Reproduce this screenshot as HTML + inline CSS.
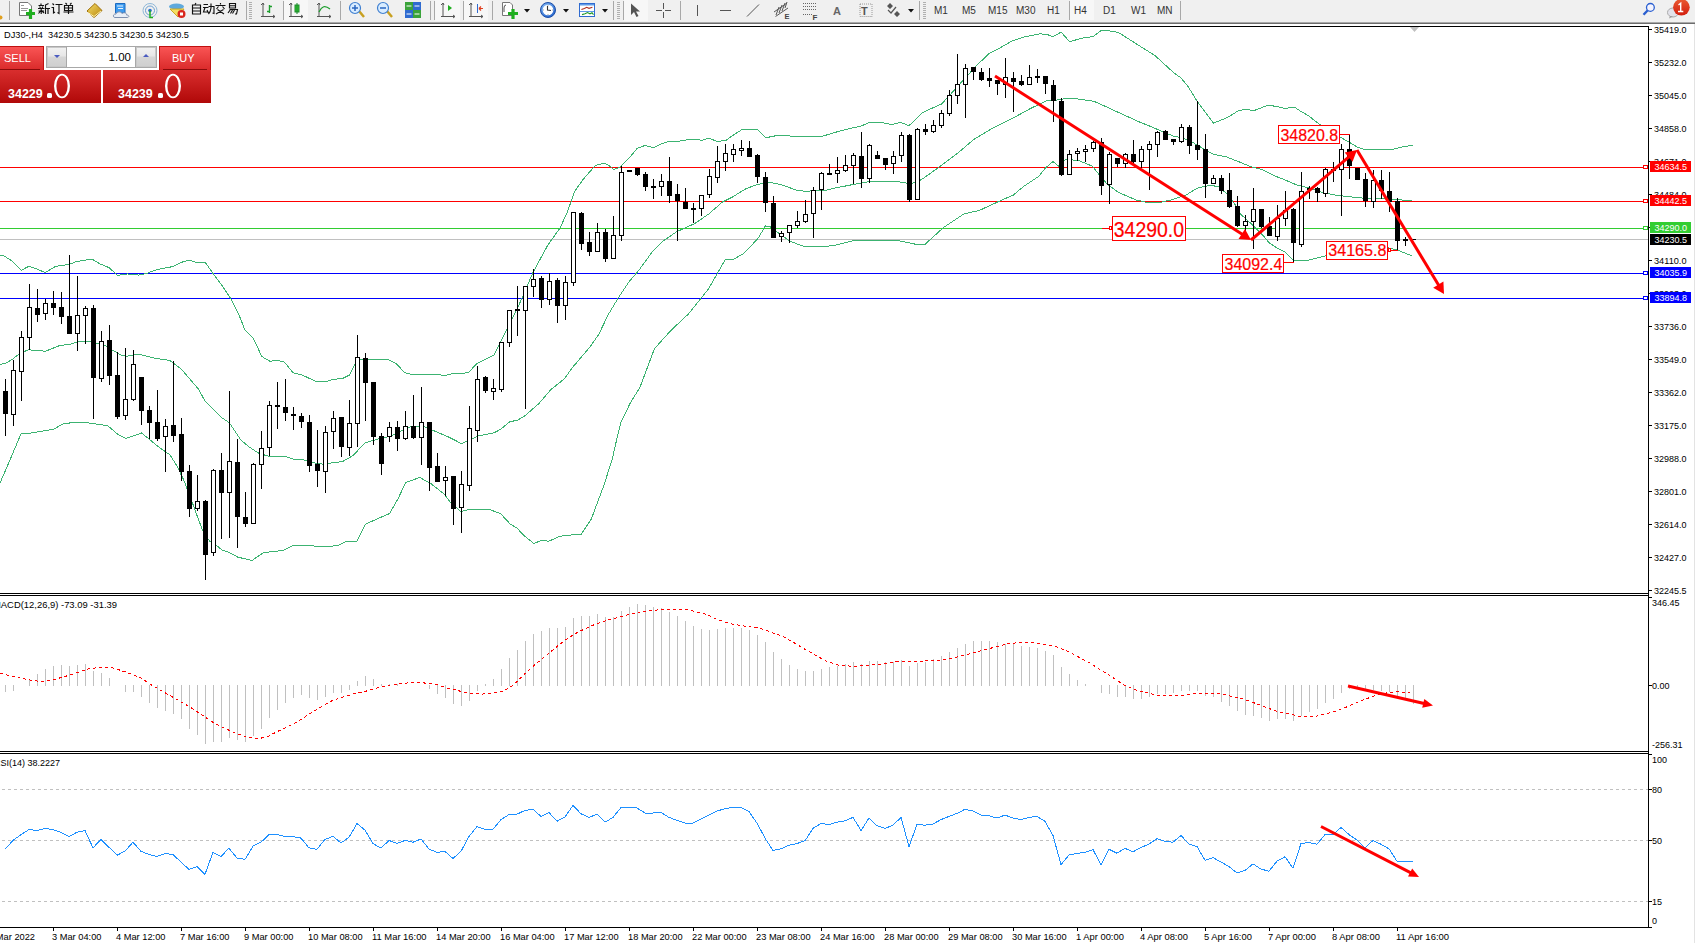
<!DOCTYPE html>
<html><head><meta charset="utf-8"><style>
html,body{margin:0;padding:0;background:#fff;}
body{width:1695px;height:943px;overflow:hidden;position:relative;font-family:"Liberation Sans",sans-serif;}
svg{position:absolute;left:0;top:0;}
svg text{font-family:"Liberation Sans",sans-serif;font-size:9px;}
.tb{position:absolute;font-size:10px;color:#222;top:4px;white-space:nowrap;}
</style></head><body>
<svg width="1695" height="943" viewBox="0 0 1695 943">
<rect x="0" y="0" width="1695" height="22" fill="#f0f0f0"/>
<rect x="0" y="22" width="1695" height="1" fill="#a9a9a9"/><rect x="0" y="23" width="1695" height="1" fill="#6c6c6c"/>
<g shape-rendering="crispEdges">
<rect x="0" y="26" width="1649" height="1" fill="#000"/>
<rect x="1648" y="26" width="1" height="902" fill="#000"/>
<rect x="0" y="593" width="1648" height="1" fill="#000"/>
<rect x="0" y="595" width="1648" height="1" fill="#000"/>
<rect x="0" y="751" width="1648" height="1" fill="#000"/>
<rect x="0" y="753" width="1648" height="1" fill="#000"/>
<rect x="0" y="927" width="1649" height="1" fill="#000"/>
<rect x="1694" y="24" width="1" height="919" fill="#e3e3e3"/>
</g>
<g shape-rendering="crispEdges" fill="#000">
<rect x="1649" y="29" width="3" height="1"/>
<rect x="1649" y="62" width="3" height="1"/>
<rect x="1649" y="95" width="3" height="1"/>
<rect x="1649" y="128" width="3" height="1"/>
<rect x="1649" y="161" width="3" height="1"/>
<rect x="1649" y="194" width="3" height="1"/>
<rect x="1649" y="227" width="3" height="1"/>
<rect x="1649" y="260" width="3" height="1"/>
<rect x="1649" y="293" width="3" height="1"/>
<rect x="1649" y="326" width="3" height="1"/>
<rect x="1649" y="359" width="3" height="1"/>
<rect x="1649" y="392" width="3" height="1"/>
<rect x="1649" y="425" width="3" height="1"/>
<rect x="1649" y="458" width="3" height="1"/>
<rect x="1649" y="491" width="3" height="1"/>
<rect x="1649" y="524" width="3" height="1"/>
<rect x="1649" y="557" width="3" height="1"/>
<rect x="1649" y="590" width="3" height="1"/>
</g>
<rect x="1649" y="597" width="3" height="1" fill="#000" shape-rendering="crispEdges"/>
<rect x="1649" y="685" width="3" height="1" fill="#000" shape-rendering="crispEdges"/>
<rect x="1649" y="754" width="3" height="1" fill="#000" shape-rendering="crispEdges"/>
<rect x="1649" y="789" width="3" height="1" fill="#000" shape-rendering="crispEdges"/>
<rect x="1649" y="840" width="3" height="1" fill="#000" shape-rendering="crispEdges"/>
<rect x="1649" y="901" width="3" height="1" fill="#000" shape-rendering="crispEdges"/>
<rect x="1649" y="927" width="3" height="1" fill="#000" shape-rendering="crispEdges"/>
<g shape-rendering="crispEdges" fill="#000">
<rect x="53" y="928" width="1" height="3"/>
<rect x="117" y="928" width="1" height="3"/>
<rect x="181" y="928" width="1" height="3"/>
<rect x="245" y="928" width="1" height="3"/>
<rect x="309" y="928" width="1" height="3"/>
<rect x="373" y="928" width="1" height="3"/>
<rect x="437" y="928" width="1" height="3"/>
<rect x="501" y="928" width="1" height="3"/>
<rect x="565" y="928" width="1" height="3"/>
<rect x="629" y="928" width="1" height="3"/>
<rect x="693" y="928" width="1" height="3"/>
<rect x="757" y="928" width="1" height="3"/>
<rect x="821" y="928" width="1" height="3"/>
<rect x="885" y="928" width="1" height="3"/>
<rect x="949" y="928" width="1" height="3"/>
<rect x="1013" y="928" width="1" height="3"/>
<rect x="1077" y="928" width="1" height="3"/>
<rect x="1141" y="928" width="1" height="3"/>
<rect x="1205" y="928" width="1" height="3"/>
<rect x="1269" y="928" width="1" height="3"/>
<rect x="1333" y="928" width="1" height="3"/>
<rect x="1397" y="928" width="1" height="3"/>
</g>
<g shape-rendering="crispEdges">
<rect x="0" y="167" width="1648" height="1" fill="#ff0000"/>
<rect x="0" y="201" width="1648" height="1" fill="#ff0000"/>
<rect x="0" y="228" width="1648" height="1" fill="#32cd32"/>
<rect x="0" y="239" width="1648" height="1" fill="#c0c0c0"/>
<rect x="0" y="273" width="1648" height="1" fill="#0000ff"/>
<rect x="0" y="298" width="1648" height="1" fill="#0000ff"/>
<rect x="1643.5" y="165.5" width="4" height="3" fill="#fff" stroke="#ff0000" stroke-width="1"/>
<rect x="1643.5" y="199.5" width="4" height="3" fill="#fff" stroke="#ff0000" stroke-width="1"/>
<rect x="1643.5" y="226.5" width="4" height="3" fill="#fff" stroke="#32cd32" stroke-width="1"/>
<rect x="1643.5" y="271.5" width="4" height="3" fill="#fff" stroke="#0000ff" stroke-width="1"/>
<rect x="1643.5" y="296.5" width="4" height="3" fill="#fff" stroke="#0000ff" stroke-width="1"/>
</g>
<g fill="none" stroke="#3cb371" stroke-width="1" shape-rendering="crispEdges">
<polyline points="0,255.3 3.5,255.6 11.3,260.5 21.2,270.4 29,266.2 36.8,269 45.3,272.6 55.2,266.6 60.9,265.5 69.4,264.4 76.5,261.5 83.5,260.5 92,259.1 100.5,264.1 109,267.6 117.5,275.4 127.4,274 138.8,275.1 145.8,273.7 157.2,269.5 172.7,266.6 182.7,261.9 189,260.2 196.8,262.4 205.3,262.4 212.4,272.6 220.9,283.9 230.7,298.5 239.2,315.5 244.8,329.6 253.3,338.1 261.8,356.5 270.3,361.5 276,360.1 284.5,362.2 293,372.8 301.5,374.7 315.6,381.3 327,381.3 332.6,379.5 342.5,378.5 349.6,375 355.3,363.6 359.5,359.4 377.9,359.7 387.8,359.4 396.3,363.6 404.8,372.8 410.5,374.2 433.1,374.7 445.9,375.2 453,373.5 460,373.9 468.5,372.4 477.1,363.4 494.1,354.9 506.3,330.5 518.5,306.1 533.2,272 547.8,245.1 560,228 567.3,212.2 574.6,191.5 582.7,180 595.4,165.3 603.9,163.2 608.8,165.3 613.8,169.6 619.5,167.4 630.8,156.1 637.2,148.3 645,145.5 653.5,147.6 659.1,144.8 669,141.2 680.4,141 687.4,139.8 697.3,139.1 701.6,140.5 708.7,138.1 717.2,141.5 725.7,140.5 735.6,133.5 742,129.6 757.5,129.6 766,137.7 778,135.3 800,136.6 821.2,136.6 835.4,132.3 849.6,128.5 860.9,126.2 869.4,122.4 880.7,122.4 892,124.5 900.5,122.4 909,125.7 921.8,113.2 928.8,109.7 941.6,104 950.1,94.8 962.8,80.6 977,65.1 989.7,53 999.6,48.1 1012.4,40.7 1025.1,36.7 1040,33.9 1046.3,34.2 1052.7,36.5 1061.2,32.2 1069.7,41.7 1081.7,38.2 1093.1,36.5 1101.5,30.4 1111.5,31.1 1118.5,32.5 1134.1,42.4 1155.4,55.9 1173.8,72.8 1180.8,77.8 1187.9,86.3 1197.1,101.2 1213.4,123.1 1227.6,117.5 1238.9,110.4 1247.4,109.4 1253.8,110.7 1267.2,105.4 1274.4,106.1 1280.6,107.4 1285,108.7 1290.4,107.4 1294.8,107.4 1300.1,110.9 1308,115.4 1314.2,120.2 1319.6,124.2 1339.9,137 1347.9,141.5 1357.6,147.2 1364.7,149.4 1392.1,149.4 1401,147.2 1412.9,145.3"/>
<polyline points="0,364.5 5.7,363.3 12.7,359.1 19.8,353.4 28.3,349.9 38.2,350.3 45.3,351.3 59.5,345.6 70.8,344.2 79.3,341.4 89.2,341.4 96.3,343.2 104.8,345.2 113.3,350.6 120.4,354.8 127.4,356.2 138.8,354.1 155.8,358.4 169.9,360.5 181.2,369 198.2,388.8 205.3,401.5 220.9,417.1 229.4,422.8 235,431.2 240.8,440 249.3,447.1 259.2,453.5 269.1,456.3 286.1,456.7 293.2,459.1 303.1,459.8 313,462.7 322.9,464.1 331.3,463 342.6,461.6 352.5,455.9 365.4,442.8 376.6,439.4 390.7,436.1 402.1,430.4 410.6,426.9 423.3,426.2 433.2,430.4 448.8,437.1 461.5,443.6 470,440 478,436 493.9,432.9 500.5,429.4 509.8,421.8 517.7,420.1 525.7,415.2 538.9,403.5 550.9,389.6 564.1,379 573.4,366.4 589.3,347.8 598.6,334.6 608.5,314.2 618.7,297.2 628.8,282 639,270.1 652.6,251.4 662.8,241.3 676.3,231.9 695,223.4 708.6,214.1 722.2,202.2 732.3,197.1 745.9,188.7 757.8,184.4 769.7,182.2 783.2,185.3 796.8,190.4 805.3,191.2 825.7,190.4 835,188.1 852,184.7 868.9,181.6 879.1,181.3 897.8,181.6 906.3,183 913,183 921.5,179.6 940.2,166.3 957.2,153.6 974.1,139.2 991.1,129 1013.1,118 1030.1,108.7 1047.1,100.5 1055.6,100.2 1069.1,98.1 1080.6,99.3 1093.9,101.3 1107.1,107.2 1123,114.5 1138.9,121.8 1152.2,127.1 1162.8,131.8 1173.4,136.1 1182.7,138 1193.3,142.8 1202.6,148.3 1213.2,154.3 1226.4,156.9 1240,162.2 1250.6,166.6 1261.2,169.2 1274.5,175.8 1286.4,180.5 1297,185.1 1310.3,188.4 1322.2,192.4 1335.4,195.1 1352.7,197.1 1365.9,198.4 1385.8,199 1412,200.6"/>
<polyline points="0,483 7.8,465 21.2,433.4 31.2,433 53.8,429.2 62.3,424.2 75,422.1 87.8,422.8 107.6,425.6 117.5,434.1 126,438.4 141.6,433 158.6,446.9 170,454.9 177.1,466.2 184.2,481.1 192.7,503.7 202.6,530.6 209.6,541.2 216.7,545.5 222.4,550.4 228.1,551.9 238,557.2 252.1,560.4 263.5,552.6 283.3,550.4 293.2,545.5 313,545.5 315.8,546.5 337.1,545.9 345.6,541.7 356.9,541.2 365.4,524.2 381,517.2 389.5,513.6 398,498.8 405.7,482.5 419.8,477.5 431.2,483.9 443.9,493.8 451,503 460.9,511.5 469.4,509.4 489.2,509.4 500.5,513.6 510.4,524.2 517.5,528.5 523.2,534.9 533.8,543.4 541.6,540.5 548.7,541.2 560,536.3 569.9,535.1 581.2,534.2 591.2,519.3 603.9,485.3 612.4,458.4 616.6,440 621.1,422 630,403.5 640.2,386.8 654.5,348.6 671.3,330 688.2,314.2 708.6,288.8 725.5,259.1 734,259.1 744.2,253.1 757.8,238.7 765.4,226 769.7,226.3 778.1,232.8 790,241.3 803.6,246.3 827.3,246.3 835,245.2 855.4,240.2 896.1,240.2 916.4,244.4 924.9,244.4 943.6,227.4 964,213.9 979.2,210.5 1001.3,200.3 1013.1,195.2 1023.3,186.7 1038.6,176.5 1045.4,168 1053,161.6 1059,166.3 1065.7,159.6 1078,160.3 1092.5,166.2 1099.2,174.8 1107.1,184.1 1119,192.7 1136.3,200 1146.9,202.4 1160.1,202.4 1170.7,200 1186.6,194.7 1197.3,188.1 1210.5,185.2 1218.5,186.8 1226.4,193.4 1235.7,205.3 1240,213.6 1253.3,225.6 1262.5,234.8 1269.2,242.8 1277.1,248.1 1285.1,252.1 1293,260 1308.9,260 1324.8,256 1360,249 1388.5,247.8 1399.1,250.7 1412.3,256"/>
</g>
<g shape-rendering="crispEdges">
<rect x="5" y="379" width="1" height="57" fill="#000"/>
<rect x="3" y="391" width="5" height="23" fill="#000"/>
<rect x="13" y="360" width="1" height="66" fill="#000"/>
<rect x="11" y="370" width="5" height="45" fill="#000"/>
<rect x="12" y="371" width="3" height="43" fill="#fff"/>
<rect x="21" y="331" width="1" height="70" fill="#000"/>
<rect x="19" y="337" width="5" height="35" fill="#000"/>
<rect x="20" y="338" width="3" height="33" fill="#fff"/>
<rect x="29" y="284" width="1" height="66" fill="#000"/>
<rect x="27" y="307" width="5" height="31" fill="#000"/>
<rect x="28" y="308" width="3" height="29" fill="#fff"/>
<rect x="37" y="289" width="1" height="33" fill="#000"/>
<rect x="35" y="308" width="5" height="7" fill="#000"/>
<rect x="45" y="299" width="1" height="21" fill="#000"/>
<rect x="43" y="303" width="5" height="11" fill="#000"/>
<rect x="44" y="304" width="3" height="9" fill="#fff"/>
<rect x="53" y="291" width="1" height="24" fill="#000"/>
<rect x="51" y="303" width="5" height="5" fill="#000"/>
<rect x="61" y="292" width="1" height="32" fill="#000"/>
<rect x="59" y="307" width="5" height="10" fill="#000"/>
<rect x="69" y="255" width="1" height="79" fill="#000"/>
<rect x="67" y="316" width="5" height="18" fill="#000"/>
<rect x="77" y="276" width="1" height="75" fill="#000"/>
<rect x="75" y="315" width="5" height="19" fill="#000"/>
<rect x="76" y="316" width="3" height="17" fill="#fff"/>
<rect x="85" y="306" width="1" height="38" fill="#000"/>
<rect x="83" y="308" width="5" height="8" fill="#000"/>
<rect x="84" y="309" width="3" height="6" fill="#fff"/>
<rect x="93" y="305" width="1" height="114" fill="#000"/>
<rect x="91" y="308" width="5" height="70" fill="#000"/>
<rect x="101" y="331" width="1" height="51" fill="#000"/>
<rect x="99" y="341" width="5" height="38" fill="#000"/>
<rect x="100" y="342" width="3" height="36" fill="#fff"/>
<rect x="109" y="325" width="1" height="60" fill="#000"/>
<rect x="107" y="340" width="5" height="36" fill="#000"/>
<rect x="117" y="352" width="1" height="67" fill="#000"/>
<rect x="115" y="375" width="5" height="42" fill="#000"/>
<rect x="125" y="348" width="1" height="72" fill="#000"/>
<rect x="123" y="399" width="5" height="17" fill="#000"/>
<rect x="124" y="400" width="3" height="15" fill="#fff"/>
<rect x="133" y="350" width="1" height="51" fill="#000"/>
<rect x="131" y="364" width="5" height="36" fill="#000"/>
<rect x="132" y="365" width="3" height="34" fill="#fff"/>
<rect x="141" y="377" width="1" height="48" fill="#000"/>
<rect x="139" y="377" width="5" height="34" fill="#000"/>
<rect x="149" y="406" width="1" height="33" fill="#000"/>
<rect x="147" y="410" width="5" height="13" fill="#000"/>
<rect x="157" y="390" width="1" height="51" fill="#000"/>
<rect x="155" y="422" width="5" height="17" fill="#000"/>
<rect x="165" y="419" width="1" height="53" fill="#000"/>
<rect x="163" y="426" width="5" height="11" fill="#000"/>
<rect x="164" y="427" width="3" height="9" fill="#fff"/>
<rect x="173" y="361" width="1" height="81" fill="#000"/>
<rect x="171" y="425" width="5" height="11" fill="#000"/>
<rect x="181" y="418" width="1" height="63" fill="#000"/>
<rect x="179" y="434" width="5" height="38" fill="#000"/>
<rect x="189" y="465" width="1" height="52" fill="#000"/>
<rect x="187" y="471" width="5" height="38" fill="#000"/>
<rect x="197" y="475" width="1" height="36" fill="#000"/>
<rect x="195" y="501" width="5" height="8" fill="#000"/>
<rect x="196" y="502" width="3" height="6" fill="#fff"/>
<rect x="205" y="500" width="1" height="80" fill="#000"/>
<rect x="203" y="501" width="5" height="54" fill="#000"/>
<rect x="213" y="469" width="1" height="87" fill="#000"/>
<rect x="211" y="470" width="5" height="83" fill="#000"/>
<rect x="212" y="471" width="3" height="81" fill="#fff"/>
<rect x="221" y="453" width="1" height="86" fill="#000"/>
<rect x="219" y="470" width="5" height="23" fill="#000"/>
<rect x="229" y="391" width="1" height="147" fill="#000"/>
<rect x="227" y="461" width="5" height="32" fill="#000"/>
<rect x="228" y="462" width="3" height="30" fill="#fff"/>
<rect x="237" y="439" width="1" height="109" fill="#000"/>
<rect x="235" y="462" width="5" height="55" fill="#000"/>
<rect x="245" y="492" width="1" height="35" fill="#000"/>
<rect x="243" y="517" width="5" height="7" fill="#000"/>
<rect x="253" y="463" width="1" height="61" fill="#000"/>
<rect x="251" y="464" width="5" height="60" fill="#000"/>
<rect x="252" y="465" width="3" height="58" fill="#fff"/>
<rect x="261" y="431" width="1" height="58" fill="#000"/>
<rect x="259" y="448" width="5" height="17" fill="#000"/>
<rect x="260" y="449" width="3" height="15" fill="#fff"/>
<rect x="269" y="401" width="1" height="55" fill="#000"/>
<rect x="267" y="405" width="5" height="43" fill="#000"/>
<rect x="268" y="406" width="3" height="41" fill="#fff"/>
<rect x="277" y="382" width="1" height="47" fill="#000"/>
<rect x="275" y="405" width="5" height="2" fill="#000"/>
<rect x="285" y="379" width="1" height="42" fill="#000"/>
<rect x="283" y="407" width="5" height="6" fill="#000"/>
<rect x="293" y="407" width="1" height="23" fill="#000"/>
<rect x="291" y="414" width="5" height="2" fill="#000"/>
<rect x="301" y="413" width="1" height="15" fill="#000"/>
<rect x="299" y="416" width="5" height="6" fill="#000"/>
<rect x="309" y="415" width="1" height="57" fill="#000"/>
<rect x="307" y="422" width="5" height="44" fill="#000"/>
<rect x="317" y="430" width="1" height="57" fill="#000"/>
<rect x="315" y="464" width="5" height="7" fill="#000"/>
<rect x="325" y="426" width="1" height="67" fill="#000"/>
<rect x="323" y="432" width="5" height="40" fill="#000"/>
<rect x="324" y="433" width="3" height="38" fill="#fff"/>
<rect x="333" y="411" width="1" height="38" fill="#000"/>
<rect x="331" y="418" width="5" height="14" fill="#000"/>
<rect x="332" y="419" width="3" height="12" fill="#fff"/>
<rect x="341" y="417" width="1" height="40" fill="#000"/>
<rect x="339" y="417" width="5" height="30" fill="#000"/>
<rect x="349" y="400" width="1" height="56" fill="#000"/>
<rect x="347" y="423" width="5" height="25" fill="#000"/>
<rect x="348" y="424" width="3" height="23" fill="#fff"/>
<rect x="357" y="335" width="1" height="112" fill="#000"/>
<rect x="355" y="357" width="5" height="67" fill="#000"/>
<rect x="356" y="358" width="3" height="65" fill="#fff"/>
<rect x="365" y="353" width="1" height="68" fill="#000"/>
<rect x="363" y="358" width="5" height="25" fill="#000"/>
<rect x="373" y="382" width="1" height="63" fill="#000"/>
<rect x="371" y="382" width="5" height="55" fill="#000"/>
<rect x="381" y="433" width="1" height="42" fill="#000"/>
<rect x="379" y="436" width="5" height="28" fill="#000"/>
<rect x="389" y="422" width="1" height="20" fill="#000"/>
<rect x="387" y="427" width="5" height="10" fill="#000"/>
<rect x="388" y="428" width="3" height="8" fill="#fff"/>
<rect x="397" y="421" width="1" height="30" fill="#000"/>
<rect x="395" y="427" width="5" height="12" fill="#000"/>
<rect x="405" y="411" width="1" height="29" fill="#000"/>
<rect x="403" y="426" width="5" height="13" fill="#000"/>
<rect x="404" y="427" width="3" height="11" fill="#fff"/>
<rect x="413" y="395" width="1" height="44" fill="#000"/>
<rect x="411" y="426" width="5" height="12" fill="#000"/>
<rect x="421" y="387" width="1" height="78" fill="#000"/>
<rect x="419" y="422" width="5" height="16" fill="#000"/>
<rect x="420" y="423" width="3" height="14" fill="#fff"/>
<rect x="429" y="422" width="1" height="69" fill="#000"/>
<rect x="427" y="422" width="5" height="46" fill="#000"/>
<rect x="437" y="453" width="1" height="29" fill="#000"/>
<rect x="435" y="466" width="5" height="16" fill="#000"/>
<rect x="445" y="466" width="1" height="30" fill="#000"/>
<rect x="443" y="477" width="5" height="4" fill="#000"/>
<rect x="444" y="478" width="3" height="2" fill="#fff"/>
<rect x="453" y="476" width="1" height="49" fill="#000"/>
<rect x="451" y="476" width="5" height="33" fill="#000"/>
<rect x="461" y="471" width="1" height="62" fill="#000"/>
<rect x="459" y="484" width="5" height="24" fill="#000"/>
<rect x="460" y="485" width="3" height="22" fill="#fff"/>
<rect x="469" y="406" width="1" height="85" fill="#000"/>
<rect x="467" y="428" width="5" height="58" fill="#000"/>
<rect x="468" y="429" width="3" height="56" fill="#fff"/>
<rect x="477" y="366" width="1" height="76" fill="#000"/>
<rect x="475" y="379" width="5" height="52" fill="#000"/>
<rect x="476" y="380" width="3" height="50" fill="#fff"/>
<rect x="485" y="376" width="1" height="17" fill="#000"/>
<rect x="483" y="377" width="5" height="14" fill="#000"/>
<rect x="493" y="379" width="1" height="21" fill="#000"/>
<rect x="491" y="388" width="5" height="4" fill="#000"/>
<rect x="492" y="389" width="3" height="2" fill="#fff"/>
<rect x="501" y="342" width="1" height="50" fill="#000"/>
<rect x="499" y="342" width="5" height="48" fill="#000"/>
<rect x="500" y="343" width="3" height="46" fill="#fff"/>
<rect x="509" y="310" width="1" height="37" fill="#000"/>
<rect x="507" y="310" width="5" height="33" fill="#000"/>
<rect x="508" y="311" width="3" height="31" fill="#fff"/>
<rect x="517" y="286" width="1" height="50" fill="#000"/>
<rect x="515" y="309" width="5" height="2" fill="#000"/>
<rect x="525" y="286" width="1" height="123" fill="#000"/>
<rect x="523" y="286" width="5" height="25" fill="#000"/>
<rect x="524" y="287" width="3" height="23" fill="#fff"/>
<rect x="533" y="269" width="1" height="28" fill="#000"/>
<rect x="531" y="279" width="5" height="8" fill="#000"/>
<rect x="532" y="280" width="3" height="6" fill="#fff"/>
<rect x="541" y="276" width="1" height="32" fill="#000"/>
<rect x="539" y="278" width="5" height="22" fill="#000"/>
<rect x="549" y="273" width="1" height="32" fill="#000"/>
<rect x="547" y="281" width="5" height="19" fill="#000"/>
<rect x="548" y="282" width="3" height="17" fill="#fff"/>
<rect x="557" y="278" width="1" height="45" fill="#000"/>
<rect x="555" y="280" width="5" height="26" fill="#000"/>
<rect x="565" y="276" width="1" height="44" fill="#000"/>
<rect x="563" y="282" width="5" height="24" fill="#000"/>
<rect x="564" y="283" width="3" height="22" fill="#fff"/>
<rect x="573" y="212" width="1" height="74" fill="#000"/>
<rect x="571" y="212" width="5" height="71" fill="#000"/>
<rect x="572" y="213" width="3" height="69" fill="#fff"/>
<rect x="581" y="212" width="1" height="38" fill="#000"/>
<rect x="579" y="213" width="5" height="31" fill="#000"/>
<rect x="589" y="232" width="1" height="24" fill="#000"/>
<rect x="587" y="242" width="5" height="10" fill="#000"/>
<rect x="597" y="223" width="1" height="29" fill="#000"/>
<rect x="595" y="232" width="5" height="20" fill="#000"/>
<rect x="596" y="233" width="3" height="18" fill="#fff"/>
<rect x="605" y="229" width="1" height="33" fill="#000"/>
<rect x="603" y="232" width="5" height="27" fill="#000"/>
<rect x="613" y="216" width="1" height="43" fill="#000"/>
<rect x="611" y="235" width="5" height="24" fill="#000"/>
<rect x="612" y="236" width="3" height="22" fill="#fff"/>
<rect x="621" y="166" width="1" height="75" fill="#000"/>
<rect x="619" y="172" width="5" height="64" fill="#000"/>
<rect x="620" y="173" width="3" height="62" fill="#fff"/>
<rect x="629" y="170" width="1" height="2" fill="#000"/>
<rect x="627" y="170" width="5" height="2" fill="#000"/>
<rect x="637" y="168" width="1" height="8" fill="#000"/>
<rect x="635" y="168" width="5" height="7" fill="#000"/>
<rect x="645" y="172" width="1" height="19" fill="#000"/>
<rect x="643" y="174" width="5" height="13" fill="#000"/>
<rect x="653" y="179" width="1" height="20" fill="#000"/>
<rect x="651" y="186" width="5" height="2" fill="#000"/>
<rect x="661" y="174" width="1" height="22" fill="#000"/>
<rect x="659" y="181" width="5" height="6" fill="#000"/>
<rect x="660" y="182" width="3" height="4" fill="#fff"/>
<rect x="669" y="157" width="1" height="46" fill="#000"/>
<rect x="667" y="181" width="5" height="15" fill="#000"/>
<rect x="677" y="184" width="1" height="57" fill="#000"/>
<rect x="675" y="194" width="5" height="7" fill="#000"/>
<rect x="685" y="188" width="1" height="21" fill="#000"/>
<rect x="683" y="202" width="5" height="7" fill="#000"/>
<rect x="693" y="203" width="1" height="20" fill="#000"/>
<rect x="691" y="208" width="5" height="2" fill="#000"/>
<rect x="701" y="195" width="1" height="21" fill="#000"/>
<rect x="699" y="195" width="5" height="14" fill="#000"/>
<rect x="700" y="196" width="3" height="12" fill="#fff"/>
<rect x="709" y="169" width="1" height="29" fill="#000"/>
<rect x="707" y="176" width="5" height="19" fill="#000"/>
<rect x="708" y="177" width="3" height="17" fill="#fff"/>
<rect x="717" y="146" width="1" height="37" fill="#000"/>
<rect x="715" y="161" width="5" height="17" fill="#000"/>
<rect x="716" y="162" width="3" height="15" fill="#fff"/>
<rect x="725" y="144" width="1" height="27" fill="#000"/>
<rect x="723" y="153" width="5" height="9" fill="#000"/>
<rect x="724" y="154" width="3" height="7" fill="#fff"/>
<rect x="733" y="144" width="1" height="18" fill="#000"/>
<rect x="731" y="149" width="5" height="6" fill="#000"/>
<rect x="732" y="150" width="3" height="4" fill="#fff"/>
<rect x="741" y="140" width="1" height="16" fill="#000"/>
<rect x="739" y="148" width="5" height="3" fill="#000"/>
<rect x="740" y="149" width="3" height="1" fill="#fff"/>
<rect x="749" y="141" width="1" height="16" fill="#000"/>
<rect x="747" y="148" width="5" height="9" fill="#000"/>
<rect x="757" y="154" width="1" height="29" fill="#000"/>
<rect x="755" y="155" width="5" height="22" fill="#000"/>
<rect x="765" y="172" width="1" height="40" fill="#000"/>
<rect x="763" y="177" width="5" height="26" fill="#000"/>
<rect x="773" y="196" width="1" height="42" fill="#000"/>
<rect x="771" y="203" width="5" height="35" fill="#000"/>
<rect x="781" y="231" width="1" height="11" fill="#000"/>
<rect x="779" y="233" width="5" height="4" fill="#000"/>
<rect x="780" y="234" width="3" height="2" fill="#fff"/>
<rect x="789" y="225" width="1" height="18" fill="#000"/>
<rect x="787" y="225" width="5" height="8" fill="#000"/>
<rect x="788" y="226" width="3" height="6" fill="#fff"/>
<rect x="797" y="211" width="1" height="17" fill="#000"/>
<rect x="795" y="221" width="5" height="5" fill="#000"/>
<rect x="796" y="222" width="3" height="3" fill="#fff"/>
<rect x="805" y="200" width="1" height="23" fill="#000"/>
<rect x="803" y="214" width="5" height="8" fill="#000"/>
<rect x="804" y="215" width="3" height="6" fill="#fff"/>
<rect x="813" y="187" width="1" height="51" fill="#000"/>
<rect x="811" y="190" width="5" height="24" fill="#000"/>
<rect x="812" y="191" width="3" height="22" fill="#fff"/>
<rect x="821" y="172" width="1" height="38" fill="#000"/>
<rect x="819" y="173" width="5" height="17" fill="#000"/>
<rect x="820" y="174" width="3" height="15" fill="#fff"/>
<rect x="829" y="164" width="1" height="11" fill="#000"/>
<rect x="827" y="173" width="5" height="2" fill="#000"/>
<rect x="837" y="157" width="1" height="26" fill="#000"/>
<rect x="835" y="170" width="5" height="4" fill="#000"/>
<rect x="836" y="171" width="3" height="2" fill="#fff"/>
<rect x="845" y="155" width="1" height="17" fill="#000"/>
<rect x="843" y="165" width="5" height="6" fill="#000"/>
<rect x="844" y="166" width="3" height="4" fill="#fff"/>
<rect x="853" y="153" width="1" height="31" fill="#000"/>
<rect x="851" y="155" width="5" height="11" fill="#000"/>
<rect x="852" y="156" width="3" height="9" fill="#fff"/>
<rect x="861" y="132" width="1" height="56" fill="#000"/>
<rect x="859" y="156" width="5" height="23" fill="#000"/>
<rect x="869" y="144" width="1" height="39" fill="#000"/>
<rect x="867" y="145" width="5" height="34" fill="#000"/>
<rect x="868" y="146" width="3" height="32" fill="#fff"/>
<rect x="877" y="151" width="1" height="8" fill="#000"/>
<rect x="875" y="155" width="5" height="4" fill="#000"/>
<rect x="885" y="158" width="1" height="12" fill="#000"/>
<rect x="883" y="158" width="5" height="7" fill="#000"/>
<rect x="893" y="151" width="1" height="23" fill="#000"/>
<rect x="891" y="156" width="5" height="8" fill="#000"/>
<rect x="892" y="157" width="3" height="6" fill="#fff"/>
<rect x="901" y="132" width="1" height="30" fill="#000"/>
<rect x="899" y="135" width="5" height="21" fill="#000"/>
<rect x="900" y="136" width="3" height="19" fill="#fff"/>
<rect x="909" y="134" width="1" height="68" fill="#000"/>
<rect x="907" y="135" width="5" height="65" fill="#000"/>
<rect x="917" y="128" width="1" height="72" fill="#000"/>
<rect x="915" y="129" width="5" height="71" fill="#000"/>
<rect x="916" y="130" width="3" height="69" fill="#fff"/>
<rect x="925" y="124" width="1" height="11" fill="#000"/>
<rect x="923" y="129" width="5" height="3" fill="#000"/>
<rect x="933" y="120" width="1" height="13" fill="#000"/>
<rect x="931" y="125" width="5" height="7" fill="#000"/>
<rect x="932" y="126" width="3" height="5" fill="#fff"/>
<rect x="941" y="110" width="1" height="18" fill="#000"/>
<rect x="939" y="113" width="5" height="13" fill="#000"/>
<rect x="940" y="114" width="3" height="11" fill="#fff"/>
<rect x="949" y="90" width="1" height="26" fill="#000"/>
<rect x="947" y="95" width="5" height="19" fill="#000"/>
<rect x="948" y="96" width="3" height="17" fill="#fff"/>
<rect x="957" y="54" width="1" height="50" fill="#000"/>
<rect x="955" y="84" width="5" height="12" fill="#000"/>
<rect x="956" y="85" width="3" height="10" fill="#fff"/>
<rect x="965" y="64" width="1" height="54" fill="#000"/>
<rect x="963" y="68" width="5" height="17" fill="#000"/>
<rect x="964" y="69" width="3" height="15" fill="#fff"/>
<rect x="973" y="67" width="1" height="13" fill="#000"/>
<rect x="971" y="67" width="5" height="5" fill="#000"/>
<rect x="981" y="68" width="1" height="13" fill="#000"/>
<rect x="979" y="72" width="5" height="8" fill="#000"/>
<rect x="989" y="68" width="1" height="19" fill="#000"/>
<rect x="987" y="78" width="5" height="3" fill="#000"/>
<rect x="997" y="80" width="1" height="15" fill="#000"/>
<rect x="995" y="80" width="5" height="4" fill="#000"/>
<rect x="1005" y="58" width="1" height="40" fill="#000"/>
<rect x="1003" y="77" width="5" height="8" fill="#000"/>
<rect x="1004" y="78" width="3" height="6" fill="#fff"/>
<rect x="1013" y="72" width="1" height="40" fill="#000"/>
<rect x="1011" y="78" width="5" height="4" fill="#000"/>
<rect x="1021" y="75" width="1" height="11" fill="#000"/>
<rect x="1019" y="81" width="5" height="4" fill="#000"/>
<rect x="1029" y="65" width="1" height="20" fill="#000"/>
<rect x="1027" y="77" width="5" height="8" fill="#000"/>
<rect x="1028" y="78" width="3" height="6" fill="#fff"/>
<rect x="1037" y="69" width="1" height="14" fill="#000"/>
<rect x="1035" y="76" width="5" height="2" fill="#000"/>
<rect x="1045" y="76" width="1" height="18" fill="#000"/>
<rect x="1043" y="76" width="5" height="8" fill="#000"/>
<rect x="1053" y="80" width="1" height="42" fill="#000"/>
<rect x="1051" y="85" width="5" height="16" fill="#000"/>
<rect x="1061" y="98" width="1" height="78" fill="#000"/>
<rect x="1059" y="101" width="5" height="74" fill="#000"/>
<rect x="1069" y="150" width="1" height="25" fill="#000"/>
<rect x="1067" y="154" width="5" height="21" fill="#000"/>
<rect x="1068" y="155" width="3" height="19" fill="#fff"/>
<rect x="1077" y="148" width="1" height="13" fill="#000"/>
<rect x="1075" y="151" width="5" height="3" fill="#000"/>
<rect x="1076" y="152" width="3" height="1" fill="#fff"/>
<rect x="1085" y="145" width="1" height="17" fill="#000"/>
<rect x="1083" y="149" width="5" height="3" fill="#000"/>
<rect x="1084" y="150" width="3" height="1" fill="#fff"/>
<rect x="1093" y="141" width="1" height="11" fill="#000"/>
<rect x="1091" y="142" width="5" height="7" fill="#000"/>
<rect x="1092" y="143" width="3" height="5" fill="#fff"/>
<rect x="1101" y="138" width="1" height="57" fill="#000"/>
<rect x="1099" y="142" width="5" height="44" fill="#000"/>
<rect x="1109" y="152" width="1" height="52" fill="#000"/>
<rect x="1107" y="154" width="5" height="31" fill="#000"/>
<rect x="1108" y="155" width="3" height="29" fill="#fff"/>
<rect x="1117" y="158" width="1" height="9" fill="#000"/>
<rect x="1115" y="158" width="5" height="6" fill="#000"/>
<rect x="1125" y="153" width="1" height="15" fill="#000"/>
<rect x="1123" y="154" width="5" height="10" fill="#000"/>
<rect x="1124" y="155" width="3" height="8" fill="#fff"/>
<rect x="1133" y="140" width="1" height="24" fill="#000"/>
<rect x="1131" y="154" width="5" height="8" fill="#000"/>
<rect x="1141" y="146" width="1" height="22" fill="#000"/>
<rect x="1139" y="149" width="5" height="13" fill="#000"/>
<rect x="1140" y="150" width="3" height="11" fill="#fff"/>
<rect x="1149" y="141" width="1" height="49" fill="#000"/>
<rect x="1147" y="144" width="5" height="6" fill="#000"/>
<rect x="1148" y="145" width="3" height="4" fill="#fff"/>
<rect x="1157" y="131" width="1" height="26" fill="#000"/>
<rect x="1155" y="132" width="5" height="13" fill="#000"/>
<rect x="1156" y="133" width="3" height="11" fill="#fff"/>
<rect x="1165" y="130" width="1" height="10" fill="#000"/>
<rect x="1163" y="131" width="5" height="9" fill="#000"/>
<rect x="1173" y="139" width="1" height="6" fill="#000"/>
<rect x="1171" y="139" width="5" height="3" fill="#000"/>
<rect x="1181" y="124" width="1" height="19" fill="#000"/>
<rect x="1179" y="127" width="5" height="15" fill="#000"/>
<rect x="1180" y="128" width="3" height="13" fill="#fff"/>
<rect x="1189" y="125" width="1" height="29" fill="#000"/>
<rect x="1187" y="127" width="5" height="19" fill="#000"/>
<rect x="1197" y="101" width="1" height="59" fill="#000"/>
<rect x="1195" y="145" width="5" height="5" fill="#000"/>
<rect x="1205" y="134" width="1" height="64" fill="#000"/>
<rect x="1203" y="149" width="5" height="35" fill="#000"/>
<rect x="1213" y="175" width="1" height="9" fill="#000"/>
<rect x="1211" y="178" width="5" height="6" fill="#000"/>
<rect x="1212" y="179" width="3" height="4" fill="#fff"/>
<rect x="1221" y="175" width="1" height="19" fill="#000"/>
<rect x="1219" y="178" width="5" height="13" fill="#000"/>
<rect x="1229" y="173" width="1" height="35" fill="#000"/>
<rect x="1227" y="190" width="5" height="17" fill="#000"/>
<rect x="1237" y="196" width="1" height="31" fill="#000"/>
<rect x="1235" y="206" width="5" height="20" fill="#000"/>
<rect x="1245" y="215" width="1" height="17" fill="#000"/>
<rect x="1243" y="221" width="5" height="5" fill="#000"/>
<rect x="1244" y="222" width="3" height="3" fill="#fff"/>
<rect x="1253" y="188" width="1" height="61" fill="#000"/>
<rect x="1251" y="209" width="5" height="13" fill="#000"/>
<rect x="1252" y="210" width="3" height="11" fill="#fff"/>
<rect x="1261" y="209" width="1" height="19" fill="#000"/>
<rect x="1259" y="209" width="5" height="18" fill="#000"/>
<rect x="1269" y="217" width="1" height="19" fill="#000"/>
<rect x="1267" y="226" width="5" height="10" fill="#000"/>
<rect x="1277" y="205" width="1" height="36" fill="#000"/>
<rect x="1275" y="218" width="5" height="19" fill="#000"/>
<rect x="1276" y="219" width="3" height="17" fill="#fff"/>
<rect x="1285" y="191" width="1" height="35" fill="#000"/>
<rect x="1283" y="210" width="5" height="9" fill="#000"/>
<rect x="1284" y="211" width="3" height="7" fill="#fff"/>
<rect x="1293" y="208" width="1" height="55" fill="#000"/>
<rect x="1291" y="209" width="5" height="34" fill="#000"/>
<rect x="1301" y="172" width="1" height="75" fill="#000"/>
<rect x="1299" y="191" width="5" height="54" fill="#000"/>
<rect x="1300" y="192" width="3" height="52" fill="#fff"/>
<rect x="1309" y="186" width="1" height="13" fill="#000"/>
<rect x="1307" y="188" width="5" height="2" fill="#000"/>
<rect x="1317" y="187" width="1" height="15" fill="#000"/>
<rect x="1315" y="188" width="5" height="5" fill="#000"/>
<rect x="1325" y="168" width="1" height="29" fill="#000"/>
<rect x="1323" y="169" width="5" height="25" fill="#000"/>
<rect x="1324" y="170" width="3" height="23" fill="#fff"/>
<rect x="1333" y="162" width="1" height="20" fill="#000"/>
<rect x="1331" y="169" width="5" height="2" fill="#000"/>
<rect x="1341" y="144" width="1" height="72" fill="#000"/>
<rect x="1339" y="149" width="5" height="21" fill="#000"/>
<rect x="1340" y="150" width="3" height="19" fill="#fff"/>
<rect x="1349" y="135" width="1" height="44" fill="#000"/>
<rect x="1347" y="149" width="5" height="17" fill="#000"/>
<rect x="1357" y="168" width="1" height="12" fill="#000"/>
<rect x="1355" y="168" width="5" height="12" fill="#000"/>
<rect x="1365" y="173" width="1" height="34" fill="#000"/>
<rect x="1363" y="179" width="5" height="22" fill="#000"/>
<rect x="1373" y="170" width="1" height="38" fill="#000"/>
<rect x="1371" y="180" width="5" height="22" fill="#000"/>
<rect x="1372" y="181" width="3" height="20" fill="#fff"/>
<rect x="1381" y="170" width="1" height="29" fill="#000"/>
<rect x="1379" y="180" width="5" height="11" fill="#000"/>
<rect x="1389" y="172" width="1" height="40" fill="#000"/>
<rect x="1387" y="191" width="5" height="11" fill="#000"/>
<rect x="1397" y="198" width="1" height="52" fill="#000"/>
<rect x="1395" y="201" width="5" height="40" fill="#000"/>
<rect x="1405" y="237" width="1" height="9" fill="#000"/>
<rect x="1403" y="239" width="5" height="2" fill="#000"/>
<rect x="1413" y="239" width="1" height="1" fill="#000"/>
<rect x="1411" y="239" width="5" height="1" fill="#000"/>
</g>
<g shape-rendering="crispEdges" fill="#c0c0c0">
<rect x="5" y="685" width="1" height="7"/>
<rect x="13" y="685" width="1" height="6"/>
<rect x="29" y="679" width="1" height="7"/>
<rect x="37" y="674" width="1" height="12"/>
<rect x="45" y="669" width="1" height="17"/>
<rect x="53" y="666" width="1" height="20"/>
<rect x="61" y="665" width="1" height="21"/>
<rect x="69" y="666" width="1" height="20"/>
<rect x="77" y="665" width="1" height="21"/>
<rect x="85" y="664" width="1" height="22"/>
<rect x="93" y="671" width="1" height="15"/>
<rect x="101" y="673" width="1" height="13"/>
<rect x="109" y="678" width="1" height="8"/>
<rect x="125" y="685" width="1" height="7"/>
<rect x="133" y="685" width="1" height="7"/>
<rect x="141" y="685" width="1" height="12"/>
<rect x="149" y="685" width="1" height="18"/>
<rect x="157" y="685" width="1" height="23"/>
<rect x="165" y="685" width="1" height="26"/>
<rect x="173" y="685" width="1" height="29"/>
<rect x="181" y="685" width="1" height="34"/>
<rect x="189" y="685" width="1" height="44"/>
<rect x="197" y="685" width="1" height="50"/>
<rect x="205" y="685" width="1" height="59"/>
<rect x="213" y="685" width="1" height="57"/>
<rect x="221" y="685" width="1" height="57"/>
<rect x="229" y="685" width="1" height="53"/>
<rect x="237" y="685" width="1" height="55"/>
<rect x="245" y="685" width="1" height="57"/>
<rect x="253" y="685" width="1" height="51"/>
<rect x="261" y="685" width="1" height="44"/>
<rect x="269" y="685" width="1" height="33"/>
<rect x="277" y="685" width="1" height="25"/>
<rect x="285" y="685" width="1" height="18"/>
<rect x="293" y="685" width="1" height="13"/>
<rect x="301" y="685" width="1" height="10"/>
<rect x="309" y="685" width="1" height="13"/>
<rect x="317" y="685" width="1" height="15"/>
<rect x="325" y="685" width="1" height="12"/>
<rect x="333" y="685" width="1" height="8"/>
<rect x="341" y="685" width="1" height="8"/>
<rect x="349" y="685" width="1" height="5"/>
<rect x="357" y="681" width="1" height="5"/>
<rect x="365" y="676" width="1" height="10"/>
<rect x="373" y="679" width="1" height="7"/>
<rect x="381" y="684" width="1" height="2"/>
<rect x="389" y="684" width="1" height="2"/>
<rect x="397" y="684" width="1" height="2"/>
<rect x="429" y="685" width="1" height="4"/>
<rect x="437" y="685" width="1" height="9"/>
<rect x="445" y="685" width="1" height="13"/>
<rect x="453" y="685" width="1" height="19"/>
<rect x="461" y="685" width="1" height="21"/>
<rect x="469" y="685" width="1" height="16"/>
<rect x="477" y="685" width="1" height="6"/>
<rect x="485" y="684" width="1" height="2"/>
<rect x="493" y="679" width="1" height="7"/>
<rect x="501" y="669" width="1" height="17"/>
<rect x="509" y="658" width="1" height="28"/>
<rect x="517" y="650" width="1" height="36"/>
<rect x="525" y="641" width="1" height="45"/>
<rect x="533" y="634" width="1" height="52"/>
<rect x="541" y="631" width="1" height="55"/>
<rect x="549" y="628" width="1" height="58"/>
<rect x="557" y="628" width="1" height="58"/>
<rect x="565" y="627" width="1" height="59"/>
<rect x="573" y="618" width="1" height="68"/>
<rect x="581" y="616" width="1" height="70"/>
<rect x="589" y="616" width="1" height="70"/>
<rect x="597" y="614" width="1" height="72"/>
<rect x="605" y="617" width="1" height="69"/>
<rect x="613" y="617" width="1" height="69"/>
<rect x="621" y="611" width="1" height="75"/>
<rect x="629" y="607" width="1" height="79"/>
<rect x="637" y="604" width="1" height="82"/>
<rect x="645" y="605" width="1" height="81"/>
<rect x="653" y="607" width="1" height="79"/>
<rect x="661" y="608" width="1" height="78"/>
<rect x="669" y="612" width="1" height="74"/>
<rect x="677" y="616" width="1" height="70"/>
<rect x="685" y="621" width="1" height="65"/>
<rect x="693" y="626" width="1" height="60"/>
<rect x="701" y="629" width="1" height="57"/>
<rect x="709" y="630" width="1" height="56"/>
<rect x="717" y="629" width="1" height="57"/>
<rect x="725" y="628" width="1" height="58"/>
<rect x="733" y="628" width="1" height="58"/>
<rect x="741" y="628" width="1" height="58"/>
<rect x="749" y="630" width="1" height="56"/>
<rect x="757" y="635" width="1" height="51"/>
<rect x="765" y="642" width="1" height="44"/>
<rect x="773" y="652" width="1" height="34"/>
<rect x="781" y="659" width="1" height="27"/>
<rect x="789" y="665" width="1" height="21"/>
<rect x="797" y="669" width="1" height="17"/>
<rect x="805" y="671" width="1" height="15"/>
<rect x="813" y="671" width="1" height="15"/>
<rect x="821" y="669" width="1" height="17"/>
<rect x="829" y="667" width="1" height="19"/>
<rect x="837" y="666" width="1" height="20"/>
<rect x="845" y="664" width="1" height="22"/>
<rect x="853" y="662" width="1" height="24"/>
<rect x="861" y="664" width="1" height="22"/>
<rect x="869" y="661" width="1" height="25"/>
<rect x="877" y="661" width="1" height="25"/>
<rect x="885" y="662" width="1" height="24"/>
<rect x="893" y="662" width="1" height="24"/>
<rect x="901" y="660" width="1" height="26"/>
<rect x="909" y="666" width="1" height="20"/>
<rect x="917" y="663" width="1" height="23"/>
<rect x="925" y="662" width="1" height="24"/>
<rect x="933" y="659" width="1" height="27"/>
<rect x="941" y="656" width="1" height="30"/>
<rect x="949" y="652" width="1" height="34"/>
<rect x="957" y="648" width="1" height="38"/>
<rect x="965" y="644" width="1" height="42"/>
<rect x="973" y="641" width="1" height="45"/>
<rect x="981" y="641" width="1" height="45"/>
<rect x="989" y="641" width="1" height="45"/>
<rect x="997" y="642" width="1" height="44"/>
<rect x="1005" y="644" width="1" height="42"/>
<rect x="1013" y="644" width="1" height="42"/>
<rect x="1021" y="646" width="1" height="40"/>
<rect x="1029" y="647" width="1" height="39"/>
<rect x="1037" y="648" width="1" height="38"/>
<rect x="1045" y="651" width="1" height="35"/>
<rect x="1053" y="655" width="1" height="31"/>
<rect x="1061" y="667" width="1" height="19"/>
<rect x="1069" y="674" width="1" height="12"/>
<rect x="1077" y="680" width="1" height="6"/>
<rect x="1085" y="684" width="1" height="2"/>
<rect x="1101" y="685" width="1" height="8"/>
<rect x="1109" y="685" width="1" height="9"/>
<rect x="1117" y="685" width="1" height="12"/>
<rect x="1125" y="685" width="1" height="12"/>
<rect x="1133" y="685" width="1" height="14"/>
<rect x="1141" y="685" width="1" height="14"/>
<rect x="1149" y="685" width="1" height="12"/>
<rect x="1157" y="685" width="1" height="9"/>
<rect x="1165" y="685" width="1" height="9"/>
<rect x="1173" y="685" width="1" height="8"/>
<rect x="1181" y="685" width="1" height="6"/>
<rect x="1189" y="685" width="1" height="6"/>
<rect x="1197" y="685" width="1" height="6"/>
<rect x="1205" y="685" width="1" height="11"/>
<rect x="1213" y="685" width="1" height="12"/>
<rect x="1221" y="685" width="1" height="17"/>
<rect x="1229" y="685" width="1" height="21"/>
<rect x="1237" y="685" width="1" height="26"/>
<rect x="1245" y="685" width="1" height="30"/>
<rect x="1253" y="685" width="1" height="31"/>
<rect x="1261" y="685" width="1" height="33"/>
<rect x="1269" y="685" width="1" height="36"/>
<rect x="1277" y="685" width="1" height="34"/>
<rect x="1285" y="685" width="1" height="34"/>
<rect x="1293" y="685" width="1" height="36"/>
<rect x="1301" y="685" width="1" height="31"/>
<rect x="1309" y="685" width="1" height="27"/>
<rect x="1317" y="685" width="1" height="24"/>
<rect x="1325" y="685" width="1" height="18"/>
<rect x="1333" y="685" width="1" height="14"/>
<rect x="1341" y="685" width="1" height="8"/>
<rect x="1349" y="685" width="1" height="4"/>
<rect x="1357" y="685" width="1" height="4"/>
<rect x="1365" y="685" width="1" height="4"/>
<rect x="1373" y="685" width="1" height="5"/>
<rect x="1381" y="685" width="1" height="6"/>
<rect x="1389" y="685" width="1" height="7"/>
<rect x="1397" y="685" width="1" height="13"/>
<rect x="1405" y="685" width="1" height="13"/>
<rect x="1413" y="685" width="1" height="19"/>
</g>
<polyline points="0,673 8.8,675.6 17.7,677 26.5,679.5 39,681.3 51.3,680.6 60.2,677.8 70.8,674.8 79.6,671.8 88.5,668.9 99,667.5 111.5,667.5 120.4,670.3 131,673.9 141.6,678.3 152.2,685.4 164.6,692.5 177,699.5 189.4,706.6 200,713.7 212.4,722 224.8,728.4 237.2,733.7 247.8,737.6 256.6,738.5 265.5,737.6 276,732.3 286.7,727 299,720.8 311.2,712.8 321.9,706.6 330.7,701.3 343.1,696.9 355.5,693.3 367.9,690.7 380.3,687.2 392.7,684.5 405,683.1 417.4,682.4 428,683.3 436.9,684.5 445.8,687.7 456.4,690.2 467,693 481.2,694.2 491.8,693.3 502.4,691.6 513,685.4 521.9,676.5 532.5,666.8 543.1,658 555.5,647.7 566.1,639.4 576.7,632.8 590.6,626.1 597.7,623.4 606.5,620.4 618.9,617.2 631.3,613.7 640.2,611.9 654.3,610.2 665,609.3 688,609.3 695,611.9 707.4,614.6 718,619.9 732.2,624 746.4,626.4 760.5,628.4 771.2,632.3 781.8,635.8 792.4,641.7 803,648.2 815.4,655.3 827.8,661.8 838.4,665 852.6,666.3 866.7,665.6 880.6,664.1 896.5,661.8 914.2,661.5 940.8,660.2 953.2,658 967.3,654.4 979.7,651.2 997.4,646.4 1008,643.8 1020.4,642.4 1032.8,642.9 1054.1,645.9 1064.7,650 1077.1,656.2 1089.5,662.9 1100.1,669.5 1112.5,677.4 1123.1,684.5 1135.5,689.8 1146.1,692.5 1156.7,695.1 1183,695.5 1195.4,693.3 1213.1,693.3 1222,694.2 1234.3,696.9 1245,699.5 1255.6,703.4 1266.2,707.5 1278.6,711.9 1291,714.2 1299.8,716.4 1315.8,716.4 1326.4,713.7 1337,710.7 1347.6,706.6 1360,701.3 1372.4,696.5 1386.5,693 1397.2,691.6 1413,693.3" fill="none" stroke="#ff0000" stroke-width="1" stroke-dasharray="3,3" shape-rendering="crispEdges"/>
<g shape-rendering="crispEdges" fill="#c0c0c0">
<path d="M0 789.5 H1648" stroke="#c0c0c0" stroke-width="1" stroke-dasharray="3,3" stroke-dashoffset="4"/>
<path d="M0 840.5 H1648" stroke="#c0c0c0" stroke-width="1" stroke-dasharray="3,3" stroke-dashoffset="4"/>
<path d="M0 901.5 H1648" stroke="#c0c0c0" stroke-width="1" stroke-dasharray="3,3" stroke-dashoffset="4"/>
</g>
<polyline points="5,849.3 13,840.4 21,834.6 29,829.6 37,830.5 45,828.4 53,829.6 61,832.3 69,836.4 77,832.3 85,830.5 93,847.9 101,839.4 109,847.3 117,855.3 125,851.1 133,842.2 141,851.4 149,854.4 157,856.4 165,853.5 173,854.6 181,862 189,869.5 197,866.5 205,874.4 213,852.3 221,856.4 229,848.2 237,858.1 245,859.4 253,846.1 261,842.2 269,834.6 277,834.6 285,836.4 293,836.7 301,838.1 309,847.9 317,849.3 325,839.4 333,836.4 341,842.9 349,837.3 357,823.5 365,830.2 373,843.5 381,848.2 389,840.4 397,843.5 405,840.4 413,842.2 421,839 429,849.1 437,852.3 445,851.4 453,858.5 461,851.4 469,836.4 477,826.6 485,829.3 493,829.3 501,819.6 509,814.6 517,814.2 525,810.4 533,809.3 541,816.4 549,812.5 557,821.3 565,816.9 573,805.4 581,813.8 589,817.4 597,814.2 605,822.2 613,817.4 621,807.5 629,807.5 637,808 645,813 653,813 661,812.5 669,817.4 677,820.4 685,823.1 693,823.1 701,819.2 709,815.1 717,811.1 725,808.6 733,807.5 741,807.5 749,811.6 757,823.1 765,838.1 773,850.5 781,848.8 789,845.2 797,843.5 805,840.8 813,828.4 821,823.5 829,824.5 837,822.2 845,820.8 853,817.4 861,830.5 869,818.1 877,825.8 885,828.4 893,825.2 901,817.4 909,846.5 917,824.5 925,825.2 933,824 941,819.6 949,816.4 957,813.4 965,809.3 973,811.1 981,815.1 989,815.7 997,818.1 1005,815.1 1013,818.1 1021,819.6 1029,817.4 1037,816.4 1045,821.3 1053,835.5 1061,864.7 1069,855 1077,853.5 1085,852.3 1093,849.6 1101,864.7 1109,849.3 1117,853.2 1125,848.4 1133,851.8 1141,847.5 1149,844 1157,838.7 1165,841.2 1173,842.2 1181,835.5 1189,844 1197,846.5 1205,860.3 1213,857.6 1221,862 1229,866.5 1237,873 1245,870.5 1253,863.8 1261,869.1 1269,871.2 1277,861.2 1285,856.7 1293,868.2 1301,843.5 1309,842.6 1317,844.3 1325,834.6 1333,834.6 1341,827.5 1349,834.6 1357,839.9 1365,847.9 1373,840.4 1381,844.3 1389,848.8 1397,861.2 1405,861.2 1413,861.2" fill="none" stroke="#1e90ff" stroke-width="1" shape-rendering="crispEdges"/>
<line x1="995.0" y1="76.0" x2="1243.4" y2="235.1" stroke="#ff0000" stroke-width="3"/><polygon points="1251.0,240.0 1238.5,239.1 1245.0,229.0" fill="#ff0000"/>
<line x1="1251.0" y1="240.0" x2="1350.1" y2="155.8" stroke="#ff0000" stroke-width="3"/><polygon points="1357.0,150.0 1352.5,161.7 1344.7,152.5" fill="#ff0000"/>
<line x1="1357.0" y1="150.0" x2="1439.3" y2="286.3" stroke="#ff0000" stroke-width="3"/><polygon points="1444.0,294.0 1433.2,287.7 1443.4,281.5" fill="#ff0000"/>
<line x1="1348.0" y1="686.0" x2="1425.2" y2="703.7" stroke="#ff0000" stroke-width="3"/><polygon points="1433.0,705.5 1422.2,707.7 1424.3,698.9" fill="#ff0000"/>
<line x1="1321.0" y1="826.5" x2="1411.9" y2="873.3" stroke="#ff0000" stroke-width="3"/><polygon points="1419.0,877.0 1408.0,876.4 1412.2,868.4" fill="#ff0000"/>
<g shape-rendering="crispEdges" fill="none" stroke="#ff0000" stroke-width="1">
<rect x="1278.5" y="125.5" width="61" height="18" fill="#fff"/>
<path d="M1340 134.5 H1349.5 V135"/>
<rect x="1112.5" y="216.5" width="73" height="24" fill="#fff"/>
<path d="M1102 228.5 H1109"/>
<rect x="1109.5" y="226.5" width="2" height="3" fill="#fff"/>
<rect x="1222.5" y="254.5" width="61" height="18" fill="#fff"/>
<path d="M1284 262.5 H1293.5 V262"/>
<rect x="1326.5" y="241.5" width="61" height="18" fill="#fff"/>
<path d="M1391 250.5 H1398"/>
<rect x="1388.5" y="248.5" width="2" height="3" fill="#fff"/>
</g>
<defs><linearGradient id="gbtn" x1="0" y1="0" x2="0" y2="1"><stop offset="0" stop-color="#f4f4f4"/><stop offset="1" stop-color="#d4d4d4"/></linearGradient><linearGradient id="gbook" x1="0" y1="0" x2="1" y2="1"><stop offset="0" stop-color="#f5dc6a"/><stop offset="1" stop-color="#b8860b"/></linearGradient><radialGradient id="gclock" cx="0.4" cy="0.35" r="0.7"><stop offset="0" stop-color="#9fd0ff"/><stop offset="1" stop-color="#1f5fc9"/></radialGradient></defs>
<circle cx="0.5" cy="17.5" r="2" fill="#e0a020"/>
<rect x="9" y="1" width="1" height="19" fill="#a8a8a8" shape-rendering="crispEdges"/>
<path d="M19.5 2.5 H28 L31.5 6 V15.5 H19.5 Z" fill="#fff" stroke="#777" stroke-width="1"/>
<path d="M21 5.5 H24 M21 8.5 H28 M21 10.5 H27" stroke="#999" stroke-width="1"/>
<path d="M26 13.5 H35 M30.5 9 V19" stroke="#1fae1f" stroke-width="3.2"/>
<g fill="none" stroke="#111" stroke-width="1.15" transform="translate(38,3)"><path d="M3 0.5 V2 M0.5 2.5 H6 M1.5 3.5 L2.5 5 M5 3.5 L4 5 M0 5.5 H6.5 M3.2 5.5 V11 M0.5 8 H6 M3 7.5 L0.5 10.5 M3.5 7.5 L6 10"/><path d="M10.5 0.5 L7.5 2 V11 M7.5 5.5 H12 M10 5.5 V11"/><path d="M14.5 0.5 L16 2 M13.5 4.5 H15.5 V10 L17 9"/><path d="M17.5 1.5 H24.5 M21 1.5 V10.5 L19.5 9.5"/><path d="M27.5 0 L29 1.5 M33.5 0 L32 1.5 M26.5 2.5 H34.5 V7.5 H26.5 Z M26.5 5 H34.5 M30.5 2.5 V11 M25.5 9 H35.5"/></g>
<path d="M87 11 L95 3.5 L102 10.5 L94 17.5 Z" fill="url(#gbook)" stroke="#a0700a" stroke-width="1"/>
<path d="M88 12.5 L94 16.5 L101 11" fill="none" stroke="#fff3b0" stroke-width="1"/>
<path d="M115.5 3.5 H125 V13 H115.5 Z" fill="#3d9bf0" stroke="#1d6bc0"/>
<path d="M117 6 H123 M118 8.5 H123" stroke="#e8f4ff"/>
<path d="M115 17.5 C112.5 17.5 113 13.5 116 14 C116.5 11.5 121 11 122 13.5 C124 12 127 13 126.5 15 C129.5 15 129.5 17.5 127 17.5 Z" fill="#e8eef7" stroke="#7d8fae"/>
<circle cx="150" cy="10.5" r="7" fill="none" stroke="#8fb8d8" stroke-width="1"/>
<circle cx="150" cy="10.5" r="4.5" fill="none" stroke="#6c9fd0" stroke-width="1"/>
<circle cx="150" cy="10.5" r="1.8" fill="#2d6dd0"/>
<path d="M150 10.5 V17.5 H153" fill="none" stroke="#1fae1f" stroke-width="1.5"/>
<ellipse cx="176.5" cy="6.5" rx="7.5" ry="3" fill="#5fa9dc"/>
<path d="M170 9 H184 L178 17 Z" fill="#f3df62" stroke="#c9a620"/>
<circle cx="181.5" cy="14" r="4" fill="#d9261c"/>
<rect x="180" y="12.5" width="3" height="3" fill="#fff"/>
<g fill="none" stroke="#111" stroke-width="1.15" transform="translate(191,3)"><path d="M5 0 L4 1.5 M1.5 2 H9.5 V11 H1.5 Z M1.5 5 H9.5 M1.5 8 H9.5"/><path d="M12.5 1.5 H17 M12 4.5 H17.5 M14 4.5 L12.5 9 H17 M16 7 L17.5 10 M17.5 3.5 H23 V10.5 L21.5 10 M20 0.5 V5 Q19.5 9 17.5 11"/><path d="M29.5 0 V1.5 M24.5 2.5 H34.5 M27.5 3.5 L25.5 6 M31.5 3.5 L33.5 6 M26.5 6.5 L33 11 M32.5 6.5 L25 11"/><path d="M38.5 0.5 H44.5 V5 H38.5 Z M38.5 2.7 H44.5 M38.5 6.5 H46.5 L45.5 11 H44 M39.5 6.5 L37 10 M41.5 7 L39.5 10.5 M43.5 7 L41.5 10.5"/></g>
<rect x="246" y="1" width="1" height="19" fill="#a8a8a8" shape-rendering="crispEdges"/>
<rect x="249" y="2" width="3" height="1" fill="#b0b0b0" shape-rendering="crispEdges"/><rect x="249" y="4" width="3" height="1" fill="#b0b0b0" shape-rendering="crispEdges"/><rect x="249" y="6" width="3" height="1" fill="#b0b0b0" shape-rendering="crispEdges"/><rect x="249" y="8" width="3" height="1" fill="#b0b0b0" shape-rendering="crispEdges"/><rect x="249" y="10" width="3" height="1" fill="#b0b0b0" shape-rendering="crispEdges"/><rect x="249" y="12" width="3" height="1" fill="#b0b0b0" shape-rendering="crispEdges"/><rect x="249" y="14" width="3" height="1" fill="#b0b0b0" shape-rendering="crispEdges"/><rect x="249" y="16" width="3" height="1" fill="#b0b0b0" shape-rendering="crispEdges"/><rect x="249" y="18" width="3" height="1" fill="#b0b0b0" shape-rendering="crispEdges"/>
<path d="M263 3 V17 M261 16.5 H275" stroke="#555" stroke-width="1"/><path d="M261 5 L263 3 L264 5 M273 15 L275 16.5 L273 18" fill="none" stroke="#555"/>
<path d="M269.5 5 V13 M267 11.5 H269.5 M269.5 6.5 H272" stroke="#1d9e2d" stroke-width="1.4"/>
<rect x="283" y="1" width="1" height="19" fill="#a8a8a8" shape-rendering="crispEdges"/>
<rect x="284" y="0" width="24" height="21" fill="#f7f7f7"/>
<path d="M291 3 V17 M289 16.5 H303" stroke="#555" stroke-width="1"/><path d="M289 5 L291 3 L292 5 M301 15 L303 16.5 L301 18" fill="none" stroke="#555"/>
<rect x="295" y="5" width="4" height="7" fill="#32c832" stroke="#1d8a2d"/><path d="M297 3 V14" stroke="#1d8a2d"/>
<path d="M319 3 V17 M317 16.5 H331" stroke="#555" stroke-width="1"/><path d="M317 5 L319 3 L320 5 M329 15 L331 16.5 L329 18" fill="none" stroke="#555"/>
<path d="M319 12 C322 6 325 5 330 9" fill="none" stroke="#1d9e2d" stroke-width="1.3"/>
<rect x="340" y="1" width="1" height="19" fill="#a8a8a8" shape-rendering="crispEdges"/>
<line x1="359" y1="11" x2="364" y2="17" stroke="#c8a020" stroke-width="2.5"/>
<circle cx="355" cy="8" r="5.5" fill="#d8ecff" stroke="#3f7fd0" stroke-width="1.2"/>
<path d="M352 8 H358" stroke="#2a66c0" stroke-width="1.5"/>
<path d="M355 5 V11" stroke="#2a66c0" stroke-width="1.5"/>
<line x1="387" y1="11" x2="392" y2="17" stroke="#c8a020" stroke-width="2.5"/>
<circle cx="383" cy="8" r="5.5" fill="#d8ecff" stroke="#3f7fd0" stroke-width="1.2"/>
<path d="M380 8 H386" stroke="#2a66c0" stroke-width="1.5"/>
<rect x="405" y="2" width="8" height="8" fill="#3aa33a"/><rect x="413" y="2" width="8" height="8" fill="#2f6bd0"/><rect x="405" y="10" width="8" height="8" fill="#2f6bd0"/><rect x="413" y="10" width="8" height="8" fill="#3aa33a"/><path d="M406.5 6 H411.5 M414.5 6 H419.5 M406.5 14 H411.5 M414.5 14 H419.5" stroke="#fff"/>
<rect x="430" y="1" width="1" height="19" fill="#a8a8a8" shape-rendering="crispEdges"/>
<rect x="434" y="1" width="1" height="19" fill="#a8a8a8" shape-rendering="crispEdges"/>
<rect x="435" y="0" width="25" height="21" fill="#f7f7f7"/>
<path d="M443 3 V17 M441 16.5 H455" stroke="#555" stroke-width="1"/><path d="M441 5 L443 3 L444 5 M453 15 L455 16.5 L453 18" fill="none" stroke="#555"/>
<path d="M448 5 L452 8 L448 11 Z" fill="#1fae1f"/>
<rect x="463" y="1" width="1" height="19" fill="#a8a8a8" shape-rendering="crispEdges"/>
<rect x="464" y="0" width="24" height="21" fill="#f7f7f7"/>
<path d="M471 3 V17 M469 16.5 H483" stroke="#555" stroke-width="1"/><path d="M469 5 L471 3 L472 5 M481 15 L483 16.5 L481 18" fill="none" stroke="#555"/>
<path d="M477.5 4 V13" stroke="#2f6bd0"/><path d="M479 8.5 H483 M479 8.5 L481 6.5 M479 8.5 L481 10.5" stroke="#e04020" stroke-width="1.2"/>
<rect x="492" y="1" width="1" height="19" fill="#a8a8a8" shape-rendering="crispEdges"/>
<path d="M502.5 2.5 H510 L512.5 5 V15.5 H502.5 Z" fill="#fff" stroke="#777"/><path d="M506 5 Q504 5 504 8 V12" fill="none" stroke="#555"/>
<path d="M508 13.5 H518 M513 9 V19" stroke="#1fae1f" stroke-width="3.2"/>
<path d="M524 9 H530 L527 12.5 Z" fill="#111"/>
<circle cx="548" cy="10" r="7.5" fill="url(#gclock)" stroke="#1d4fa8"/>
<circle cx="548" cy="10" r="5.3" fill="#fff"/>
<path d="M547.5 6 V10 L551 10.5" fill="none" stroke="#333" stroke-width="1.1"/>
<path d="M548 5 V5.8 M553 10 H552.2 M548 15 V14.2 M543 10 H543.8" stroke="#999"/>
<path d="M563 9 H569 L566 12.5 Z" fill="#111"/>
<rect x="579.5" y="3.5" width="15" height="13" fill="#fff" stroke="#2f6bd0"/>
<rect x="580" y="4" width="14" height="1.5" fill="#5f9be8"/>
<rect x="580" y="11" width="14" height="1" fill="#5f9be8"/>
<path d="M581.4 9.6 L584.4 8.4 L586.7 7.3 L589 8.3 L592.4 7.3" fill="none" stroke="#b03020" stroke-width="1.1"/>
<path d="M582 14.6 L585 13.8 L587.5 12.6 L590 13.8 L592 12.8 L593.5 14.6" fill="none" stroke="#1f9a2a" stroke-width="1.1"/>
<path d="M602 9 H608 L605 12.5 Z" fill="#111"/>
<rect x="613" y="1" width="1" height="19" fill="#a8a8a8" shape-rendering="crispEdges"/>
<rect x="617" y="2" width="3" height="1" fill="#b0b0b0" shape-rendering="crispEdges"/><rect x="617" y="4" width="3" height="1" fill="#b0b0b0" shape-rendering="crispEdges"/><rect x="617" y="6" width="3" height="1" fill="#b0b0b0" shape-rendering="crispEdges"/><rect x="617" y="8" width="3" height="1" fill="#b0b0b0" shape-rendering="crispEdges"/><rect x="617" y="10" width="3" height="1" fill="#b0b0b0" shape-rendering="crispEdges"/><rect x="617" y="12" width="3" height="1" fill="#b0b0b0" shape-rendering="crispEdges"/><rect x="617" y="14" width="3" height="1" fill="#b0b0b0" shape-rendering="crispEdges"/><rect x="617" y="16" width="3" height="1" fill="#b0b0b0" shape-rendering="crispEdges"/><rect x="617" y="18" width="3" height="1" fill="#b0b0b0" shape-rendering="crispEdges"/>
<rect x="623" y="1" width="1" height="19" fill="#a8a8a8" shape-rendering="crispEdges"/>
<rect x="624" y="0" width="24" height="21" fill="#f7f7f7"/>
<path d="M631 3.5 L631 15 L634 12 L636.5 17 L638.5 16 L636 11.5 L640 11.5 Z" fill="#555"/>
<path d="M663.5 3 V9 M663.5 12 V18 M656 10.5 H662 M665 10.5 H671" stroke="#555" stroke-width="1" shape-rendering="crispEdges"/>
<rect x="680" y="1" width="1" height="19" fill="#a8a8a8" shape-rendering="crispEdges"/>
<path d="M697.5 5 V16" stroke="#555"/>
<path d="M720 10.5 H731" stroke="#555"/>
<path d="M747 16.5 L759 4.5" stroke="#555"/>
<path d="M774 12 L787 3 M775.5 16.5 L788 8 M776 15 L779 7 M779 13 L782 5 M782 11 L785 3 M785 8 L787 2" fill="none" stroke="#555" stroke-width="1"/>
<text x="784.5" y="19" style="font-size:7.5px;font-weight:bold" fill="#444">E</text>
<path d="M803 3.5 H816 M803 6.5 H816 M803 9.5 H816 M803 14.5 H813" stroke="#666" stroke-dasharray="1,1"/>
<text x="812.5" y="19.5" style="font-size:8px;font-weight:bold" fill="#444">F</text>
<text x="833" y="15" style="font-size:11px;font-weight:bold" fill="#666">A</text>
<rect x="860" y="4" width="12" height="12.5" fill="none" stroke="#666" stroke-width="0.8" stroke-dasharray="0.8,1.2"/>
<text x="861" y="15" style="font-size:11px;font-weight:bold" fill="#555">T</text>
<path d="M887 6 L890 3 L893 6 L890 9 Z M894 14 L897 11 L900 14 L897 17 Z" fill="#555"/><path d="M888 10 L891 13 L896 7" fill="none" stroke="#555" stroke-width="1.2"/>
<path d="M908 9 H914 L911 12.5 Z" fill="#111"/>
<rect x="919" y="1" width="1" height="19" fill="#a8a8a8" shape-rendering="crispEdges"/>
<rect x="923" y="2" width="3" height="1" fill="#b0b0b0" shape-rendering="crispEdges"/><rect x="923" y="4" width="3" height="1" fill="#b0b0b0" shape-rendering="crispEdges"/><rect x="923" y="6" width="3" height="1" fill="#b0b0b0" shape-rendering="crispEdges"/><rect x="923" y="8" width="3" height="1" fill="#b0b0b0" shape-rendering="crispEdges"/><rect x="923" y="10" width="3" height="1" fill="#b0b0b0" shape-rendering="crispEdges"/><rect x="923" y="12" width="3" height="1" fill="#b0b0b0" shape-rendering="crispEdges"/><rect x="923" y="14" width="3" height="1" fill="#b0b0b0" shape-rendering="crispEdges"/><rect x="923" y="16" width="3" height="1" fill="#b0b0b0" shape-rendering="crispEdges"/><rect x="923" y="18" width="3" height="1" fill="#b0b0b0" shape-rendering="crispEdges"/>
<text x="934" y="14" style="font-size:10px" fill="#333">M1</text>
<text x="962" y="14" style="font-size:10px" fill="#333">M5</text>
<text x="988" y="14" style="font-size:10px" fill="#333">M15</text>
<text x="1016" y="14" style="font-size:10px" fill="#333">M30</text>
<text x="1047" y="14" style="font-size:10px" fill="#333">H1</text>
<rect x="1070" y="0" width="24" height="20" fill="#f7f7f7"/>
<text x="1074" y="14" style="font-size:10px" fill="#333">H4</text>
<text x="1103" y="14" style="font-size:10px" fill="#333">D1</text>
<text x="1131" y="14" style="font-size:10px" fill="#333">W1</text>
<text x="1157" y="14" style="font-size:10px" fill="#333">MN</text>
<rect x="1069" y="1" width="1" height="19" fill="#a8a8a8" shape-rendering="crispEdges"/>
<rect x="1180" y="1" width="1" height="19" fill="#a8a8a8" shape-rendering="crispEdges"/>
<circle cx="1650.4" cy="7.4" r="3.9" fill="#f4f4ff" stroke="#2a5fd0" stroke-width="1.3"/>
<path d="M1647.8 10.2 L1643.5 14.8" stroke="#2a5fd0" stroke-width="2.4"/>
<ellipse cx="1673" cy="12.5" rx="5.5" ry="4.5" fill="#e2e2ea" stroke="#aaa"/>
<path d="M1670 16 L1669 18.5 L1673 16.5" fill="#999"/>
<defs><linearGradient id="gbadge" x1="0" y1="0" x2="0" y2="1"><stop offset="0" stop-color="#ea5a32"/><stop offset="1" stop-color="#d21e0e"/></linearGradient></defs>
<circle cx="1681.4" cy="7.3" r="8.3" fill="url(#gbadge)"/>
<path d="M1678 11.5 H1683.3 M1680.7 11.5 V3.2 L1678.5 5" fill="none" stroke="#fff" stroke-width="1.4"/>
<defs><linearGradient id="gred1" x1="0" y1="0" x2="0" y2="1"><stop offset="0" stop-color="#fb5656"/><stop offset="1" stop-color="#d92a2a"/></linearGradient><linearGradient id="gred2" x1="0" y1="0" x2="0" y2="1"><stop offset="0" stop-color="#d92e2e"/><stop offset="1" stop-color="#b00808"/></linearGradient><linearGradient id="gspin" x1="0" y1="0" x2="0" y2="1"><stop offset="0" stop-color="#f2f2f2"/><stop offset="0.45" stop-color="#e6e6e6"/><stop offset="0.5" stop-color="#d6d6d6"/><stop offset="1" stop-color="#cfcfcf"/></linearGradient></defs>
<g shape-rendering="crispEdges">
<rect x="0" y="46" width="44" height="24" fill="url(#gred1)"/>
<rect x="43" y="46" width="1" height="24" fill="#c01010"/>
<rect x="0" y="46" width="44" height="1" fill="#c01010"/>
<rect x="0" y="69" width="40" height="1" fill="#8a0a0a"/>
<rect x="159" y="46" width="52" height="24" fill="url(#gred1)"/>
<rect x="159" y="46" width="52" height="1" fill="#c01010"/>
<rect x="159" y="46" width="1" height="24" fill="#c01010"/>
<rect x="210" y="46" width="1" height="57" fill="#c01010"/>
<rect x="163" y="69" width="44" height="1" fill="#8a0a0a"/>
<rect x="0" y="70" width="101" height="33" fill="url(#gred2)"/>
<rect x="103" y="70" width="108" height="33" fill="url(#gred2)"/>
<rect x="46.5" y="46.5" width="110" height="21" fill="#fff" stroke="#a8a8a8"/>
<rect x="47.5" y="47.5" width="19" height="19" fill="url(#gspin)" stroke="#c8c8c8"/>
<rect x="136.5" y="47.5" width="19" height="19" fill="url(#gspin)" stroke="#c8c8c8"/>
<rect x="66" y="47" width="1" height="20" fill="#a8a8a8"/>
<rect x="135" y="47" width="1" height="20" fill="#a8a8a8"/>
</g>
<path d="M54 55 H60 L57 58 Z" fill="#4a5bc0"/>
<path d="M143 57 H149 L146 54 Z" fill="#4a5bc0"/>
<path fill-rule="evenodd" fill="#fff" d="M54.0 86.0 a8.0 12.2 0 1 0 16.0 0 a8.0 12.2 0 1 0 -16.0 0 Z M56.4 86.0 a5.6 10.6 0 1 0 11.2 0 a5.6 10.6 0 1 0 -11.2 0 Z"/>
<path fill-rule="evenodd" fill="#fff" d="M165.0 86.0 a8.0 12.2 0 1 0 16.0 0 a8.0 12.2 0 1 0 -16.0 0 Z M167.4 86.0 a5.6 10.6 0 1 0 11.2 0 a5.6 10.6 0 1 0 -11.2 0 Z"/>
<rect x="47" y="93" width="5" height="5" rx="1.5" fill="#fff"/>
<rect x="158" y="93" width="5" height="5" rx="1.5" fill="#fff"/>
<polygon points="1410,27 1419,27 1414.5,32" fill="#c0c0c0"/>
<g fill="#000"><text x="1654" y="33" textLength="32.5" lengthAdjust="spacingAndGlyphs" style="font-size:9.4px">35419.0</text>
<text x="1654" y="66" textLength="32.5" lengthAdjust="spacingAndGlyphs" style="font-size:9.4px">35232.0</text>
<text x="1654" y="99" textLength="32.5" lengthAdjust="spacingAndGlyphs" style="font-size:9.4px">35045.0</text>
<text x="1654" y="132" textLength="32.5" lengthAdjust="spacingAndGlyphs" style="font-size:9.4px">34858.0</text>
<text x="1654" y="165" textLength="32.5" lengthAdjust="spacingAndGlyphs" style="font-size:9.4px">34671.0</text>
<text x="1654" y="198" textLength="32.5" lengthAdjust="spacingAndGlyphs" style="font-size:9.4px">34484.0</text>
<text x="1654" y="231" textLength="32.5" lengthAdjust="spacingAndGlyphs" style="font-size:9.4px">34297.0</text>
<text x="1654" y="264" textLength="32.5" lengthAdjust="spacingAndGlyphs" style="font-size:9.4px">34110.0</text>
<text x="1654" y="297" textLength="32.5" lengthAdjust="spacingAndGlyphs" style="font-size:9.4px">33923.0</text>
<text x="1654" y="330" textLength="32.5" lengthAdjust="spacingAndGlyphs" style="font-size:9.4px">33736.0</text>
<text x="1654" y="363" textLength="32.5" lengthAdjust="spacingAndGlyphs" style="font-size:9.4px">33549.0</text>
<text x="1654" y="396" textLength="32.5" lengthAdjust="spacingAndGlyphs" style="font-size:9.4px">33362.0</text>
<text x="1654" y="429" textLength="32.5" lengthAdjust="spacingAndGlyphs" style="font-size:9.4px">33175.0</text>
<text x="1654" y="462" textLength="32.5" lengthAdjust="spacingAndGlyphs" style="font-size:9.4px">32988.0</text>
<text x="1654" y="495" textLength="32.5" lengthAdjust="spacingAndGlyphs" style="font-size:9.4px">32801.0</text>
<text x="1654" y="528" textLength="32.5" lengthAdjust="spacingAndGlyphs" style="font-size:9.4px">32614.0</text>
<text x="1654" y="561" textLength="32.5" lengthAdjust="spacingAndGlyphs" style="font-size:9.4px">32427.0</text>
<text x="1654" y="594" textLength="32.5" lengthAdjust="spacingAndGlyphs" style="font-size:9.4px">32245.5</text>
<text x="1652" y="606">346.45</text>
<text x="1652" y="689">0.00</text>
<text x="1652" y="748">-256.31</text>
<text x="1652" y="763">100</text>
<text x="1652" y="793">80</text>
<text x="1652" y="844">50</text>
<text x="1652" y="905">15</text>
<text x="1652" y="924">0</text>
<text x="35" y="940" text-anchor="end" textLength="46.9" lengthAdjust="spacingAndGlyphs" style="font-size:9.8px">2 Mar 2022</text>
<text x="52" y="940" textLength="49.5" lengthAdjust="spacingAndGlyphs" style="font-size:9.8px">3 Mar 04:00</text>
<text x="116" y="940" textLength="49.5" lengthAdjust="spacingAndGlyphs" style="font-size:9.8px">4 Mar 12:00</text>
<text x="180" y="940" textLength="49.5" lengthAdjust="spacingAndGlyphs" style="font-size:9.8px">7 Mar 16:00</text>
<text x="244" y="940" textLength="49.5" lengthAdjust="spacingAndGlyphs" style="font-size:9.8px">9 Mar 00:00</text>
<text x="308" y="940" textLength="54.6" lengthAdjust="spacingAndGlyphs" style="font-size:9.8px">10 Mar 08:00</text>
<text x="372" y="940" textLength="54.6" lengthAdjust="spacingAndGlyphs" style="font-size:9.8px">11 Mar 16:00</text>
<text x="436" y="940" textLength="54.6" lengthAdjust="spacingAndGlyphs" style="font-size:9.8px">14 Mar 20:00</text>
<text x="500" y="940" textLength="54.6" lengthAdjust="spacingAndGlyphs" style="font-size:9.8px">16 Mar 04:00</text>
<text x="564" y="940" textLength="54.6" lengthAdjust="spacingAndGlyphs" style="font-size:9.8px">17 Mar 12:00</text>
<text x="628" y="940" textLength="54.6" lengthAdjust="spacingAndGlyphs" style="font-size:9.8px">18 Mar 20:00</text>
<text x="692" y="940" textLength="54.6" lengthAdjust="spacingAndGlyphs" style="font-size:9.8px">22 Mar 00:00</text>
<text x="756" y="940" textLength="54.6" lengthAdjust="spacingAndGlyphs" style="font-size:9.8px">23 Mar 08:00</text>
<text x="820" y="940" textLength="54.6" lengthAdjust="spacingAndGlyphs" style="font-size:9.8px">24 Mar 16:00</text>
<text x="884" y="940" textLength="54.6" lengthAdjust="spacingAndGlyphs" style="font-size:9.8px">28 Mar 00:00</text>
<text x="948" y="940" textLength="54.6" lengthAdjust="spacingAndGlyphs" style="font-size:9.8px">29 Mar 08:00</text>
<text x="1012" y="940" textLength="54.6" lengthAdjust="spacingAndGlyphs" style="font-size:9.8px">30 Mar 16:00</text>
<text x="1076" y="940" textLength="47.9" lengthAdjust="spacingAndGlyphs" style="font-size:9.8px">1 Apr 00:00</text>
<text x="1140" y="940" textLength="47.9" lengthAdjust="spacingAndGlyphs" style="font-size:9.8px">4 Apr 08:00</text>
<text x="1204" y="940" textLength="47.9" lengthAdjust="spacingAndGlyphs" style="font-size:9.8px">5 Apr 16:00</text>
<text x="1268" y="940" textLength="47.9" lengthAdjust="spacingAndGlyphs" style="font-size:9.8px">7 Apr 00:00</text>
<text x="1332" y="940" textLength="47.9" lengthAdjust="spacingAndGlyphs" style="font-size:9.8px">8 Apr 08:00</text>
<text x="1396" y="940" textLength="53.1" lengthAdjust="spacingAndGlyphs" style="font-size:9.8px">11 Apr 16:00</text>
<text x="1280.4" y="141" fill="#ff0000" stroke="#ff0000" stroke-width="0.2" lengthAdjust="spacingAndGlyphs" textLength="57.8" style="font-size:16.6px">34820.8</text>
<text x="1113.8" y="237" fill="#ff0000" stroke="#ff0000" stroke-width="0.2" lengthAdjust="spacingAndGlyphs" textLength="70.2" style="font-size:22px">34290.0</text>
<text x="1224.5" y="269.5" fill="#ff0000" stroke="#ff0000" stroke-width="0.2" lengthAdjust="spacingAndGlyphs" textLength="57.8" style="font-size:16.6px">34092.4</text>
<text x="1328.2" y="256.3" fill="#ff0000" stroke="#ff0000" stroke-width="0.2" lengthAdjust="spacingAndGlyphs" textLength="58.3" style="font-size:16.6px">34165.8</text>
<text x="4" y="62" fill="#fff" style="font-size:11px">SELL</text>
<text x="172" y="62" fill="#fff" style="font-size:11px">BUY</text>
<text x="131" y="61" text-anchor="end" style="font-size:11.5px">1.00</text>
<text x="8" y="98" fill="#fff" style="font-size:12.5px;font-weight:bold">34229</text>
<text x="118" y="98" fill="#fff" style="font-size:12.5px;font-weight:bold">34239</text>
<text x="4" y="38" textLength="185" lengthAdjust="spacingAndGlyphs" style="font-size:9.4px">DJ30-,H4&#160;&#160;34230.5 34230.5 34230.5 34230.5</text>
<text x="-7" y="608" textLength="124" lengthAdjust="spacingAndGlyphs" style="font-size:9.6px">MACD(12,26,9) -73.09 -31.39</text>
<text x="-6" y="766">RSI(14) 38.2227</text></g>
<rect x="1650" y="161" width="41" height="11" fill="#ff0000" shape-rendering="crispEdges"/>
<text x="1654.5" y="170" fill="#fff">34634.5</text>
<rect x="1650" y="195" width="41" height="11" fill="#ff0000" shape-rendering="crispEdges"/>
<text x="1654.5" y="204" fill="#fff">34442.5</text>
<rect x="1650" y="222" width="41" height="11" fill="#32cd32" shape-rendering="crispEdges"/>
<text x="1654.5" y="231" fill="#fff">34290.0</text>
<rect x="1650" y="234" width="41" height="11" fill="#000000" shape-rendering="crispEdges"/>
<text x="1654.5" y="243" fill="#fff">34230.5</text>
<rect x="1650" y="267" width="41" height="11" fill="#0000ff" shape-rendering="crispEdges"/>
<text x="1654.5" y="276" fill="#fff">34035.9</text>
<rect x="1650" y="292" width="41" height="11" fill="#0000ff" shape-rendering="crispEdges"/>
<text x="1654.5" y="301" fill="#fff">33894.8</text>
</svg>
</body></html>
